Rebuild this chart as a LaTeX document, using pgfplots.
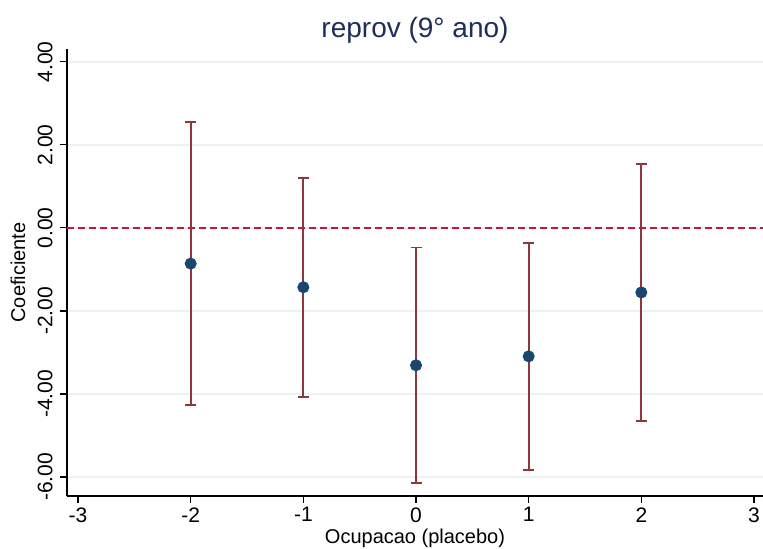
\documentclass[border=0pt]{standalone}
\usepackage{pgfplots}
\pgfplotsset{compat=1.18}
\usepackage{fontspec}
\setmainfont{Liberation Sans}
\definecolor{stnavy}{HTML}{1A476F}
\definecolor{stcran}{HTML}{90353B}
\definecolor{stred}{HTML}{C8163C}
\definecolor{stgrid}{HTML}{EAF2F3}
\definecolor{sttitle}{HTML}{1E2D5A}

\begin{document}
\begin{tikzpicture}
% 1 px of the reference = 0.5pt
\path[use as bounding box] (-33.5pt,-26pt) rectangle (348pt,248pt);
\begin{axis}[
    at={(0,0)}, anchor=south west,
    scale only axis, width=348pt, height=223.5pt,
    xmin=-3.098, xmax=3.08, ymin=-6.46, ymax=4.31,
    axis x line*=bottom, axis y line*=left,
    axis line style={black, line width=0.6pt, -},
    tick align=outside, major tick length=3.5pt,
    tick style={black, line width=0.6pt},
    xtick={-3,-2,-1,0,1,2,3},
    xticklabels={-3,-2,-1,0,1,2,3},
    ytick={-6,-4,-2,0,2,4},
    yticklabels={-6.00,-4.00,-2.00,0.00,2.00,4.00},
    ymajorgrids, grid style={stgrid, line width=0.75pt},
    tick label style={font=\fontsize{10.5}{12}\selectfont},
    yticklabel style={rotate=90, anchor=south, inner sep=1pt, yshift=2.5pt},
    xticklabel style={anchor=north, inner sep=1pt, yshift=-1pt},
    title={reprov (9° ano)},
    title style={at={(0.5,1)}, anchor=center, yshift=3.5pt,
                 font=\fontsize{14}{16}\selectfont, text=sttitle},
    xlabel={Ocupacao (placebo)},
    xlabel style={at={(0.5,0)}, anchor=center, yshift=-21pt,
                  font=\fontsize{10}{12}\selectfont},
    ylabel={Coeficiente},
    ylabel style={at={(0,0.5)}, anchor=center, yshift=24.5pt,
                  font=\fontsize{10}{12}\selectfont},
    clip=false,
  ]
  \addplot[stred, line width=0.75pt, dash pattern=on 3.5pt off 2pt]
    coordinates {(-3.098,0) (3.08,0)};
  \addplot[only marks, mark=*, mark size=2.8pt, color=stnavy,
    error bars/.cd, y dir=both, y explicit,
    error bar style={stcran, line width=0.9pt},
    error mark options={stcran, line width=0.9pt, mark size=2.75pt, rotate=90}]
    coordinates {
      (-2,-0.86) +- (0,3.41)
      (-1,-1.43) +- (0,2.635)
      (0,-3.31)  +- (0,2.84)
      (1,-3.095) +- (0,2.735)
      (2,-1.555) +- (0,3.095)
    };
\end{axis}
\end{tikzpicture}
\end{document}
